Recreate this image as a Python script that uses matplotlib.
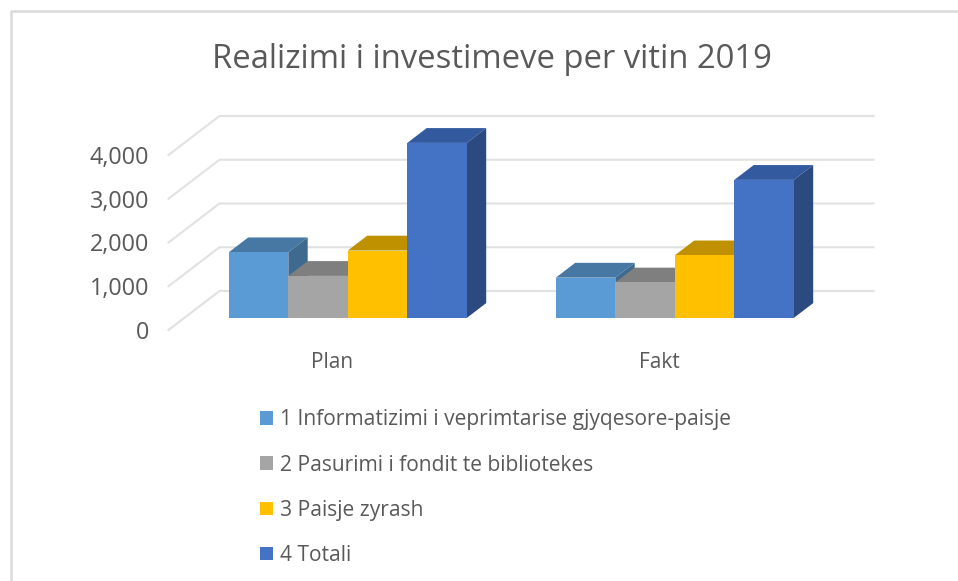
import matplotlib
matplotlib.use('Agg')
import matplotlib.pyplot as plt
from matplotlib.patches import Polygon

plt.rcParams['font.family'] = ['Open Sans', 'DejaVu Sans']

categories = ['Plan', 'Fakt']
series_names = ['1 Informatizimi i veprimtarise gjyqesore-paisje',
                '2 Pasurimi i fondit te bibliotekes',
                '3 Paisje zyrash',
                '4 Totali']
informatizimi = [1500, 920]
pasurimi = [960, 810]
paisje = [1540, 1430]
totali = [4000, 3155]
y_ticks = [0, 1000, 2000, 3000, 4000]

front_colors = ['#5B9BD5', '#A5A5A5', '#FFC000', '#4472C4']
top_colors = ['#4778A3', '#7F7F7F', '#BF9000', '#335A9E']
side_colors = ['#3E6A90', '#707070', '#A67D00', '#2B4A80']
text_color = '#595959'
grid_color = '#E2E2E2'

W, H = 958, 581
fig = plt.figure(figsize=(W / 100, H / 100), dpi=100)
# axes is the front plane of the 3d box
ax = fig.add_axes([168.5 / W, 1 - 330 / H, 654 / W, 175 / H])
ax.set_xlim(-0.5, 1.5)
ax.set_ylim(0, 4000)
ax.patch.set_alpha(0)

# full depth of the box in data units
depth_x = 51 / 327
depth_y = 39 / 175 * 4000
bar_w = 59.5 / 327
near, far = 0.31, 0.69

# walls
for t in y_ticks:
    ax.plot([-0.5, -0.5 + depth_x, 1.5 + depth_x], [t, t + depth_y, t + depth_y],
            color=grid_color, lw=1.5, clip_on=False, zorder=1)

all_series = [informatizimi, pasurimi, paisje, totali]
handles = []
for i, vals in enumerate(all_series):
    for j, v in enumerate(vals):
        x0 = j + (i - 2) * bar_w + near * depth_x
        x1 = x0 + bar_w
        y0 = near * depth_y
        dx = (far - near) * depth_x
        dy = (far - near) * depth_y
        z = 2 + i
        b = ax.bar(x0, v, bar_w, bottom=y0, align='edge', color=front_colors[i],
                   clip_on=False, zorder=z + 0.2)
        ax.add_patch(Polygon([(x0, y0 + v), (x1, y0 + v), (x1 + dx, y0 + v + dy), (x0 + dx, y0 + v + dy)],
                             color=top_colors[i], lw=0, clip_on=False, zorder=z))
        ax.add_patch(Polygon([(x1, y0), (x1, y0 + v), (x1 + dx, y0 + v + dy), (x1 + dx, y0 + dy)],
                             color=side_colors[i], lw=0, clip_on=False, zorder=z))
    handles.append(b[0])

for s in ax.spines.values():
    s.set_visible(False)
ax.set_xticks(range(len(categories)), categories)
ax.set_yticks(y_ticks, [f'{t:,}' for t in y_ticks])
ax.tick_params(length=0, colors=text_color)
ax.tick_params(axis='y', labelsize=16.8, pad=14)
ax.tick_params(axis='x', labelsize=15, pad=16)

fig.text(492 / W, 1 - 60 / H, 'Realizimi i investimeve per vitin 2019', ha='center', va='center',
         fontsize=23.6, color=text_color)

fig.legend(handles, series_names, loc='upper left', bbox_to_anchor=(260 / W, 1 - 409.5 / H),
           frameon=False, fontsize=15.1, labelcolor=text_color, handlelength=0.62, handleheight=0.62,
           handletextpad=0.33, labelspacing=1.15, borderpad=0, borderaxespad=0)

# chart border, left and top only
fig.add_artist(plt.Line2D([11 / W, 11 / W, 1], [0, 1 - 11 / H, 1 - 11 / H], transform=fig.transFigure,
                          color='#DADADA', lw=1.8))

fig.savefig('out.png', dpi=100)
